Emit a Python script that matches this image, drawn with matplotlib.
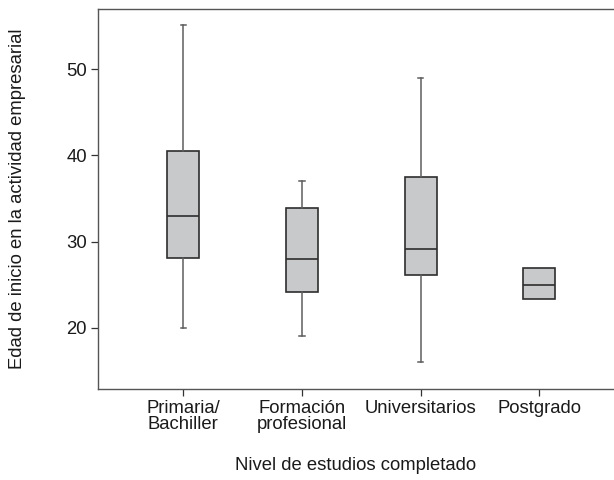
import matplotlib
matplotlib.use("Agg")
import matplotlib.pyplot as plt

plt.rcParams["font.family"] = ["Liberation Sans", "DejaVu Sans"]

# values
categories = ["Primaria/\nBachiller", "Formación\nprofesional", "Universitarios", "Postgrado"]
whisker_lo = [20.0, 19.0, 16.0, 23.3]
q1 = [28.1, 24.1, 26.1, 23.3]
medians = [33.0, 28.0, 29.1, 25.0]
q3 = [40.5, 33.9, 37.5, 27.0]
whisker_hi = [55.1, 37.0, 49.0, 27.0]
has_whiskers = [True, True, True, False]
yticks = [20, 30, 40, 50]

stats = []
for lo, a, m, b, hi, label in zip(whisker_lo, q1, medians, q3, whisker_hi, categories):
    stats.append({"whislo": lo, "q1": a, "med": m, "q3": b, "whishi": hi,
                  "fliers": [], "label": label})

fig = plt.figure(figsize=(6.14, 4.80), dpi=100)
ax = fig.add_axes([98 / 614, 1 - 389 / 480, 1 - 98 / 614, (389 - 9) / 480])

edge = "#2e2e2e"
wcol = "#5e5e5e"
bp = ax.bxp(stats, positions=[1, 2, 3, 4], widths=0.27, patch_artist=True,
            showfliers=False,
            boxprops=dict(facecolor="#c8c9cb", edgecolor=edge, linewidth=1.2),
            medianprops=dict(color=edge, linewidth=1.2),
            whiskerprops=dict(color=wcol, linewidth=1.1),
            capprops=dict(color=wcol, linewidth=1.1),
            capwidths=0.045)

# last group has no whiskers
for i, show in enumerate(has_whiskers):
    if not show:
        for art in bp["whiskers"][2 * i:2 * i + 2] + bp["caps"][2 * i:2 * i + 2]:
            art.set_visible(False)

ax.set_xlim(0.281, 4.63)
ax.set_ylim(12.9, 57.0)
ax.set_yticks(yticks)
ax.set_xticks([1, 2, 3, 4])
ax.set_xticklabels(categories, linespacing=0.95)

for side in ["top", "bottom", "left"]:
    ax.spines[side].set_color("#555555")
    ax.spines[side].set_linewidth(1.0)
ax.spines["right"].set_visible(False)
ax.tick_params(axis="both", length=5, width=0.9, color="#333333",
               labelsize=13.3, pad=3, labelcolor="#1a1a1a")

ax.set_xlabel("Nivel de estudios completado", fontsize=13.3, color="#1a1a1a", labelpad=17)
ax.set_ylabel("Edad de inicio en la actividad empresarial", fontsize=13.3,
              color="#1a1a1a", labelpad=29)

fig.savefig("out.png", dpi=100)
